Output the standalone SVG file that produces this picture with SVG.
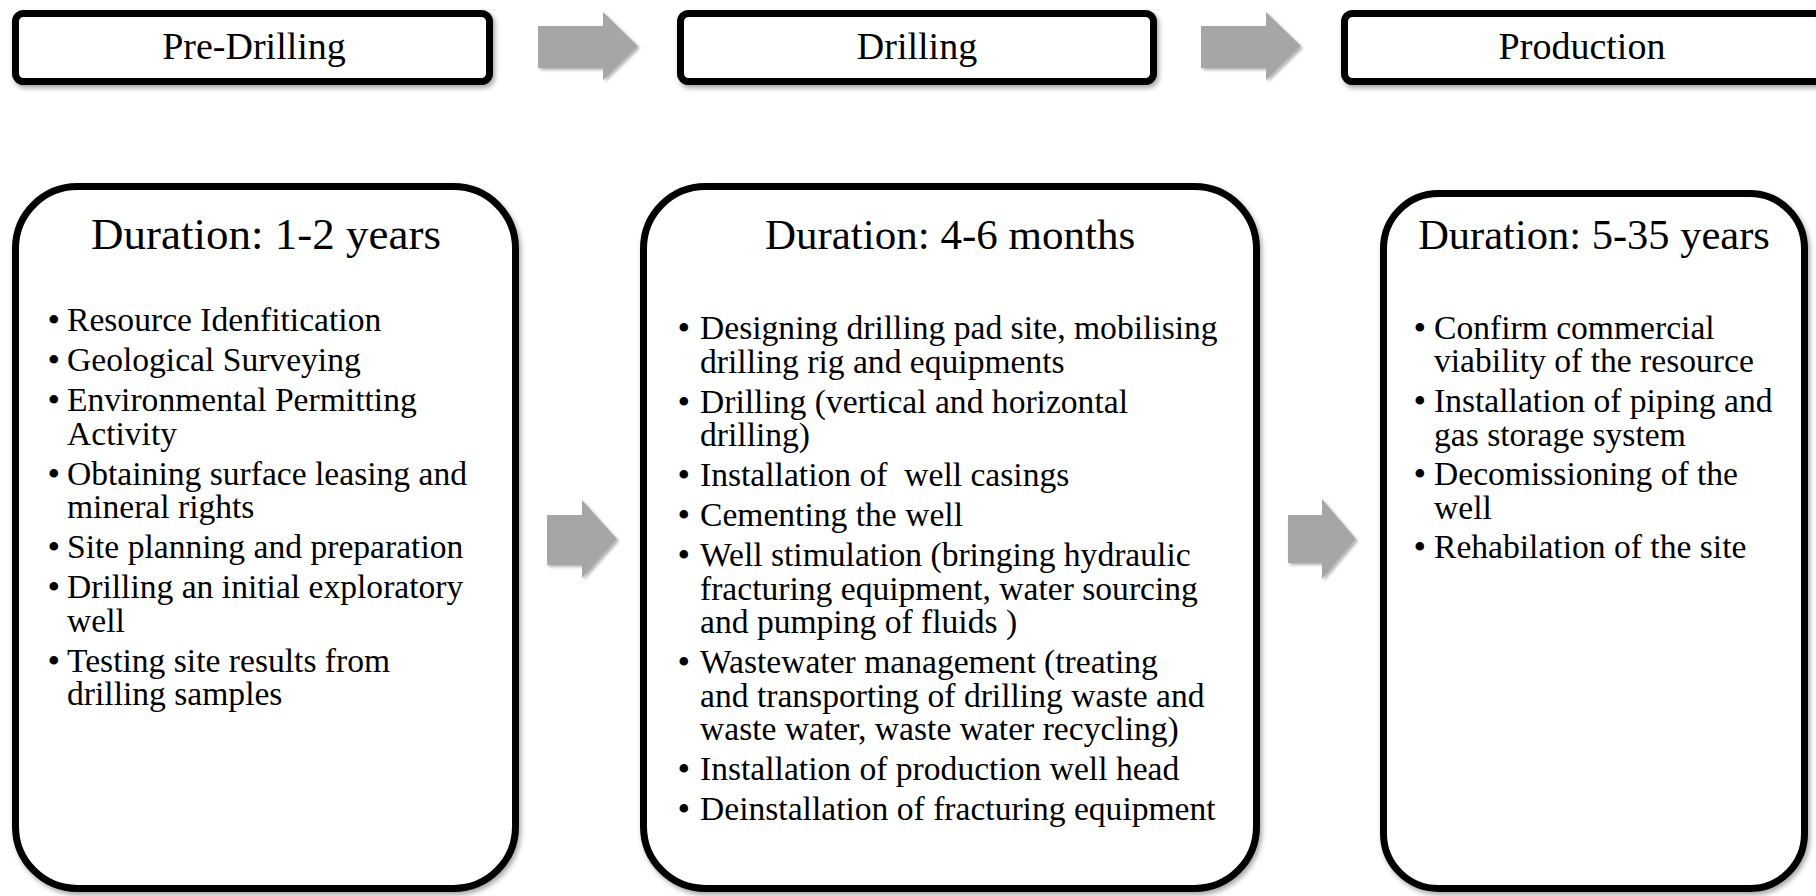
<svg xmlns="http://www.w3.org/2000/svg" width="1816" height="896" viewBox="0 0 1816 896">
<defs>
<filter id="sh" x="-10%" y="-10%" width="130%" height="130%">
<feDropShadow dx="2" dy="3" stdDeviation="2.5" flood-color="#000" flood-opacity="0.35"/>
</filter>
<filter id="ash" x="-20%" y="-20%" width="150%" height="150%">
<feDropShadow dx="2" dy="2" stdDeviation="1.5" flood-color="#000" flood-opacity="0.3"/>
</filter>
<style>
.box{fill:#fff;stroke:#000;stroke-width:7;filter:url(#sh)}
.arr{fill:#a6a6a6;filter:url(#ash)}
text{font-family:"Liberation Serif","Times New Roman",serif;fill:#000}
.hd{font-size:38px;text-anchor:middle}
.ti{font-size:44px;text-anchor:middle}
.bd{font-size:33.6px}
.bu{font-size:36px}
</style>
</defs>
<rect width="1816" height="896" fill="#fff"/>

<g id="connectors">
<path class="arr" d="M538,26 H603 V12 L638,46 L603,80 V68 H538 Z"/>
<path class="arr" d="M1201,26 H1266 V12 L1301,46 L1266,80 V68 H1201 Z"/>
<path class="arr" d="M547,515 H582 V500 L617,539 L582,578 V565 H547 Z"/>
<path class="arr" d="M1288,515 H1322 V499 L1356,539 L1322,579 V563 H1288 Z"/>
</g>

<g id="pre-drilling">
<rect class="box" x="15.5" y="13.5" width="474" height="68" rx="8"/>
<text class="hd" x="254" y="59">Pre-Drilling</text>
</g>
<g id="drilling">
<rect class="box" x="680.5" y="13.5" width="473" height="68" rx="8"/>
<text class="hd" x="917" y="59">Drilling</text>
</g>
<g id="production">
<rect class="box" x="1344.5" y="13.5" width="478" height="68" rx="8"/>
<text class="hd" x="1582" y="59">Production</text>
</g>

<g id="pre-drilling-details">
<rect class="box" x="15.5" y="186.5" width="500" height="702" rx="62"/>
<text class="ti" x="266" y="249" style="font-size:45px">Duration: 1-2 years</text>
<text class="bd" x="47.5 67" y="331" dy="1 -1"><tspan class="bu">•</tspan>Resource Idenfitication</text>
<text class="bd" x="47.5 67" y="371" dy="1 -1"><tspan class="bu">•</tspan>Geological Surveying</text>
<text class="bd" x="47.5 67" y="411" dy="1 -1"><tspan class="bu">•</tspan>Environmental Permitting</text>
<text class="bd" x="67" y="444.5">Activity</text>
<text class="bd" x="47.5 67" y="484.5" dy="1 -1"><tspan class="bu">•</tspan>Obtaining surface leasing and</text>
<text class="bd" x="67" y="518">mineral rights</text>
<text class="bd" x="47.5 67" y="558" dy="1 -1"><tspan class="bu">•</tspan>Site planning and preparation</text>
<text class="bd" x="47.5 67" y="598" dy="1 -1"><tspan class="bu">•</tspan>Drilling an initial exploratory</text>
<text class="bd" x="67" y="631.5">well</text>
<text class="bd" x="47.5 67" y="671.5" dy="1 -1"><tspan class="bu">•</tspan>Testing site results from</text>
<text class="bd" x="67" y="705">drilling samples</text>
</g>

<g id="drilling-details">
<rect class="box" x="643.5" y="186.5" width="613" height="702" rx="62"/>
<text class="ti" x="950" y="249" style="font-size:43px">Duration: 4-6 months</text>
<text class="bd" x="677.5 700" y="339" dy="1 -1"><tspan class="bu">•</tspan>Designing drilling pad site, mobilising</text>
<text class="bd" x="700" y="372.5">drilling rig and equipments</text>
<text class="bd" x="677.5 700" y="412.5" dy="1 -1"><tspan class="bu">•</tspan>Drilling (vertical and horizontal</text>
<text class="bd" x="700" y="446">drilling)</text>
<text class="bd" x="677.5 700" y="486" dy="1 -1" xml:space="preserve"><tspan class="bu">•</tspan>Installation of  well casings</text>
<text class="bd" x="677.5 700" y="526" dy="1 -1"><tspan class="bu">•</tspan>Cementing the well</text>
<text class="bd" x="677.5 700" y="566" dy="1 -1"><tspan class="bu">•</tspan>Well stimulation (bringing hydraulic</text>
<text class="bd" x="700" y="599.5">fracturing equipment, water sourcing</text>
<text class="bd" x="700" y="633">and pumping of fluids )</text>
<text class="bd" x="677.5 700" y="673" dy="1 -1"><tspan class="bu">•</tspan>Wastewater management (treating</text>
<text class="bd" x="700" y="706.5">and transporting of drilling waste and</text>
<text class="bd" x="700" y="740">waste water, waste water recycling)</text>
<text class="bd" x="677.5 700" y="780" dy="1 -1"><tspan class="bu">•</tspan>Installation of production well head</text>
<text class="bd" x="677.5 700" y="820" dy="1 -1"><tspan class="bu">•</tspan>Deinstallation of fracturing equipment</text>
</g>

<g id="production-details">
<rect class="box" x="1383.5" y="193.5" width="421" height="695" rx="55"/>
<text class="ti" x="1594" y="249" style="font-size:42.5px">Duration: 5-35 years</text>
<text class="bd" x="1413.5 1434" y="339" dy="1 -1"><tspan class="bu">•</tspan>Confirm commercial</text>
<text class="bd" x="1434" y="372">viability of the resource</text>
<text class="bd" x="1413.5 1434" y="412" dy="1 -1"><tspan class="bu">•</tspan>Installation of piping and</text>
<text class="bd" x="1434" y="445.5">gas storage system</text>
<text class="bd" x="1413.5 1434" y="485" dy="1 -1"><tspan class="bu">•</tspan>Decomissioning of the</text>
<text class="bd" x="1434" y="518.5">well</text>
<text class="bd" x="1413.5 1434" y="558" dy="1 -1"><tspan class="bu">•</tspan>Rehabilation of the site</text>
</g>
</svg>
